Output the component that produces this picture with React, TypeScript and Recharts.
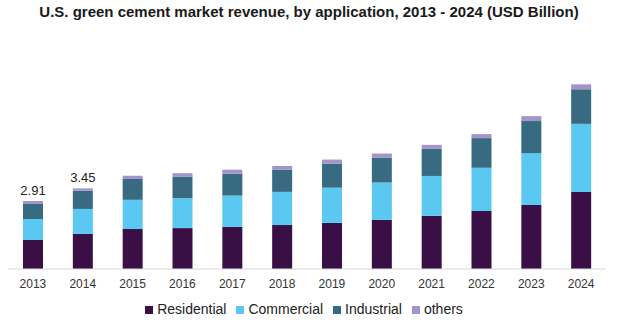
import { Bar, BarChart, LabelList, Legend, XAxis, YAxis } from 'recharts';

const years = ['2013', '2014', '2015', '2016', '2017', '2018', '2019', '2020', '2021', '2022', '2023', '2024'];
const residential = [1.24, 1.5, 1.71, 1.75, 1.8, 1.88, 1.97, 2.1, 2.28, 2.48, 2.74, 3.29];
const commercial = [0.9, 1.07, 1.25, 1.28, 1.34, 1.42, 1.51, 1.6, 1.7, 1.85, 2.22, 2.92];
const industrial = [0.64, 0.78, 0.89, 0.91, 0.94, 0.94, 1.03, 1.07, 1.16, 1.27, 1.37, 1.48];
const others = [0.13, 0.1, 0.14, 0.16, 0.17, 0.17, 0.17, 0.17, 0.17, 0.17, 0.21, 0.21];
const totalLabels = ['2.91', '3.45'];

const COLORS = {
  residential: '#3a0f46',
  commercial: '#5bc8f2',
  industrial: '#386b82',
  others: '#a394c9',
};

const FONT = '"Liberation Sans", Arial, sans-serif';

const data = years.map((year, i) => ({
  year,
  Residential: residential[i],
  Commercial: commercial[i],
  Industrial: industrial[i],
  others: others[i],
}));

function TotalLabel(props: any) {
  const { x, y, width, index } = props;
  const text = totalLabels[index];
  if (!text) return null;
  return (
    <text x={x + width / 2} y={y - 6} textAnchor="middle" fontSize={13} fill="#222" fontFamily={FONT}>
      {text}
    </text>
  );
}

export default function App() {
  return (
    <div style={{ position: 'absolute', left: 0, top: 0, width: 618, height: 326, background: '#fff', fontFamily: FONT }}>
      <div
        style={{
          position: 'absolute',
          top: 3,
          left: 0,
          width: 618,
          textAlign: 'center',
          fontWeight: 'bold',
          fontSize: 15,
          color: '#1a1a1a',
        }}
      >
        U.S. green cement market revenue, by application, 2013 - 2024 (USD Billion)
      </div>
      <BarChart width={618} height={326} data={data} margin={{ top: 82, right: 12, left: 8, bottom: 27 }} barSize={20}>
        <XAxis
          dataKey="year"
          height={30}
          tickLine={false}
          tickMargin={4}
          axisLine={{ stroke: '#d9d9d9' }}
          tick={{ fontSize: 12, fill: '#333', fontFamily: FONT }}
          interval={0}
        />
        <YAxis hide domain={[0, 8]} />
        <Legend
          verticalAlign="middle"
          align="center"
          iconType="square"
          iconSize={8}
          itemSorter={null}
          wrapperStyle={{ top: 301, left: 0, width: 618, fontSize: 14, color: '#222' }}
          formatter={(value: string) => <span style={{ color: '#222' }}>{value}</span>}
        />
        <Bar dataKey="Residential" stackId="a" fill={COLORS.residential} isAnimationActive={false} />
        <Bar dataKey="Commercial" stackId="a" fill={COLORS.commercial} isAnimationActive={false} />
        <Bar dataKey="Industrial" stackId="a" fill={COLORS.industrial} isAnimationActive={false} />
        <Bar dataKey="others" stackId="a" fill={COLORS.others} isAnimationActive={false}>
          <LabelList dataKey="others" content={TotalLabel} />
        </Bar>
      </BarChart>
    </div>
  );
}
